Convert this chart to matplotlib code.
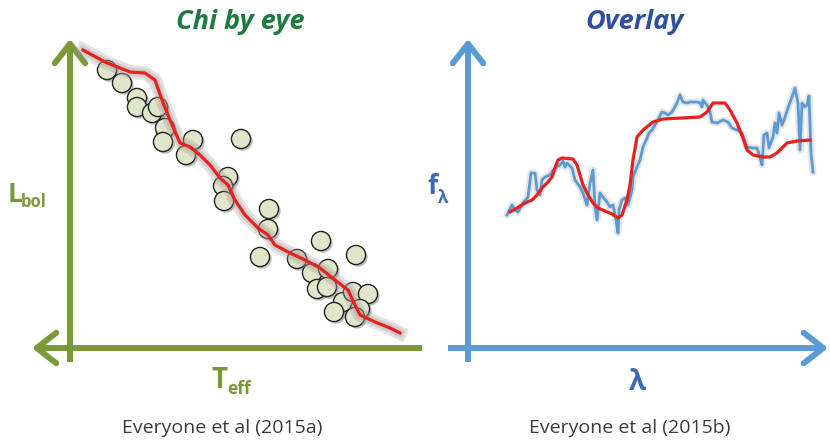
import numpy as np
import matplotlib.pyplot as plt
import matplotlib.patheffects as pe

# left panel: scattered stars and a by-eye curve
teff = [37, 52, 67, 67, 82, 88, 95, 93, 123, 116, 171, 158, 153, 154, 199, 198, 190,
        251, 227, 286, 242, 258, 247, 257, 273, 283, 298, 264, 290, 285]
lbol = [278, 265, 250, 241, 235, 241, 220, 206, 208, 193, 209, 171, 162, 147, 139, 119, 91,
        107, 89, 93, 75, 79, 59, 61, 46, 56, 54, 36, 39, 31]
fit_x = [13, 35, 60, 75, 85, 92, 100, 110, 120, 130, 140, 150, 158, 165, 175, 188, 198,
         205, 220, 235, 250, 265, 278, 285, 290, 305, 320, 330]
fit_y = [298, 286, 276, 275, 268, 248, 228, 205, 201, 193, 183, 170, 163, 148, 133, 120, 113,
         103, 95, 88, 80, 68, 58, 43, 33, 26, 20, 15]

# right panel: spectrum and model overlay
wave = [39, 44, 47, 50, 55, 60, 63, 67, 69, 72, 74, 77, 82, 85, 89, 92, 95, 97, 99, 104,
        107, 112, 115, 119, 122, 125, 127, 129, 132, 135, 139, 142, 145, 148, 150, 151, 154,
        157, 160, 164, 165, 169, 172, 175, 179, 181, 184, 187, 190, 194, 197, 200, 204, 209,
        212, 215, 219, 222, 229, 232, 234, 235, 239, 242, 244, 249, 255, 260, 264, 269, 274,
        279, 284, 289, 292, 294, 296, 299, 301, 305, 307, 309, 311, 314, 317, 320, 324, 327,
        330, 332, 334, 337, 339, 341, 343, 345]
flux = [133, 143, 138, 136, 145, 151, 175, 175, 158, 153, 168, 171, 173, 178, 181, 183, 187,
        181, 185, 180, 168, 161, 155, 143, 165, 178, 141, 128, 155, 151, 146, 141, 143, 128,
        115, 138, 148, 150, 143, 158, 171, 181, 188, 201, 210, 215, 218, 223, 228, 236, 235,
        233, 236, 245, 253, 246, 245, 246, 246, 245, 241, 248, 243, 236, 226, 225, 228, 226,
        220, 218, 215, 201, 200, 200, 191, 183, 213, 215, 200, 211, 225, 215, 235, 223, 231,
        240, 251, 260, 245, 198, 245, 241, 243, 252, 195, 176]
model_x = [42, 49, 57, 64, 69, 74, 79, 84, 87, 90, 94, 105, 109, 112, 115, 120, 125, 130, 137,
           144, 150, 154, 159, 162, 165, 169, 175, 185, 195, 232, 239, 245, 257, 262, 269, 275,
           279, 285, 295, 302, 309, 319, 329, 342]
model_y = [136, 140, 145, 148, 153, 160, 165, 171, 180, 188, 190, 189, 183, 173, 163, 153, 145,
           140, 137, 134, 130, 133, 148, 163, 188, 211, 218, 226, 229, 231, 236, 245, 245, 238,
           225, 210, 198, 193, 191, 191, 195, 205, 207, 208]

green = '#7a9a3a'
blue = '#5b9bd5'
blue_txt = '#4169b3'
red = '#e8211f'
cap_col = '#3a3a3a'

fig = plt.figure(figsize=(8.3, 4.42), dpi=100)
axl = fig.add_axes([0, 0, 430 / 830, 1])
axr = fig.add_axes([430 / 830, 0, 400 / 830, 1])
axl.set_xlim(-70, 360)
axr.set_xlim(-38, 362)
for ax in (axl, axr):
    ax.set_ylim(-94, 348)
    ax.axis('off')

glow = [pe.Stroke(linewidth=10, foreground='#a89c9c', alpha=0.3),
        pe.Stroke(linewidth=6, foreground='#a89c9c', alpha=0.3), pe.Normal()]
shadow = [pe.SimplePatchShadow(offset=(1.5, -1.5), shadow_rgbFace='#777777', alpha=0.5), pe.Normal()]
head = '->,head_length=0.7,head_width=0.55'

# left axes arrows
axl.plot([0, 0], [-14, 300], color=green, lw=4.3, solid_capstyle='butt')
axl.plot([-30, 352], [0, 0], color=green, lw=4.3, solid_capstyle='butt')
axl.annotate('', xy=(0, 309), xytext=(0, 280),
             arrowprops=dict(arrowstyle=head, lw=4.3, color=green, mutation_scale=20,
                             shrinkA=0, shrinkB=0))
axl.annotate('', xy=(-38, 0), xytext=(-10, 0),
             arrowprops=dict(arrowstyle=head, lw=4.3, color=green, mutation_scale=20,
                             shrinkA=0, shrinkB=0))

axl.scatter(teff, lbol, s=190, facecolor='#dfe6c9', edgecolor='#222222', linewidths=1.0,
            zorder=3, path_effects=shadow)
axl.plot(fit_x, fit_y, color=red, lw=2.3, zorder=4, path_effects=glow)

axl.text(170, 326, 'Chi by eye', color='#1d7a3d', fontsize=19.5, fontweight='bold',
         fontstyle='italic', ha='center', va='center', family='Open Sans')
axl.text(-62, 154, 'L', color=green, fontsize=19, fontweight='bold', ha='left',
         va='center', family='Open Sans')
axl.text(-49, 146, 'bol', color=green, fontsize=12, fontweight='bold', ha='left',
         va='center', family='Open Sans')
axl.text(141, -33, 'T', color=green, fontsize=20, fontweight='bold', ha='left',
         va='center', family='Open Sans')
axl.text(157, -41, 'eff', color=green, fontsize=12.5, fontweight='bold', ha='left',
         va='center', family='Open Sans')
axl.text(152, -80, 'Everyone et al (2015a)', color=cap_col, fontsize=14, ha='center',
         va='center', family='Open Sans')

# right axes arrows
axr.plot([0, 0], [-14, 300], color=blue, lw=4.3, solid_capstyle='butt')
axr.plot([-20, 352], [0, 0], color=blue, lw=4.3, solid_capstyle='butt')
axr.annotate('', xy=(0, 309), xytext=(0, 280),
             arrowprops=dict(arrowstyle=head, lw=4.3, color=blue, mutation_scale=20,
                             shrinkA=0, shrinkB=0))
axr.annotate('', xy=(360, 0), xytext=(330, 0),
             arrowprops=dict(arrowstyle=head, lw=4.3, color=blue, mutation_scale=20,
                             shrinkA=0, shrinkB=0))

axr.plot(wave, flux, color=blue, lw=2.0, zorder=3,
         path_effects=[pe.Stroke(linewidth=5, foreground='#aaaaaa', alpha=0.3), pe.Normal()])
axr.plot(model_x, model_y, color=red, lw=2.3, zorder=4)

axr.text(167, 326, 'Overlay', color='#2e4f9e', fontsize=19.5, fontweight='bold',
         fontstyle='italic', ha='center', va='center', family='Open Sans')
axr.text(-41, 162, 'f', color=blue_txt, fontsize=19, fontweight='bold', ha='left',
         va='center', family='Open Sans')
axr.text(-30, 150, 'λ', color=blue_txt, fontsize=12, fontweight='bold', ha='left',
         va='center', family='Open Sans')
axr.text(169, -35, 'λ', color=blue_txt, fontsize=20, fontweight='bold', ha='center',
         va='center', family='Open Sans')
axr.text(162, -80, 'Everyone et al (2015b)', color=cap_col, fontsize=14, ha='center',
         va='center', family='Open Sans')

fig.savefig('out.png', dpi=100)
